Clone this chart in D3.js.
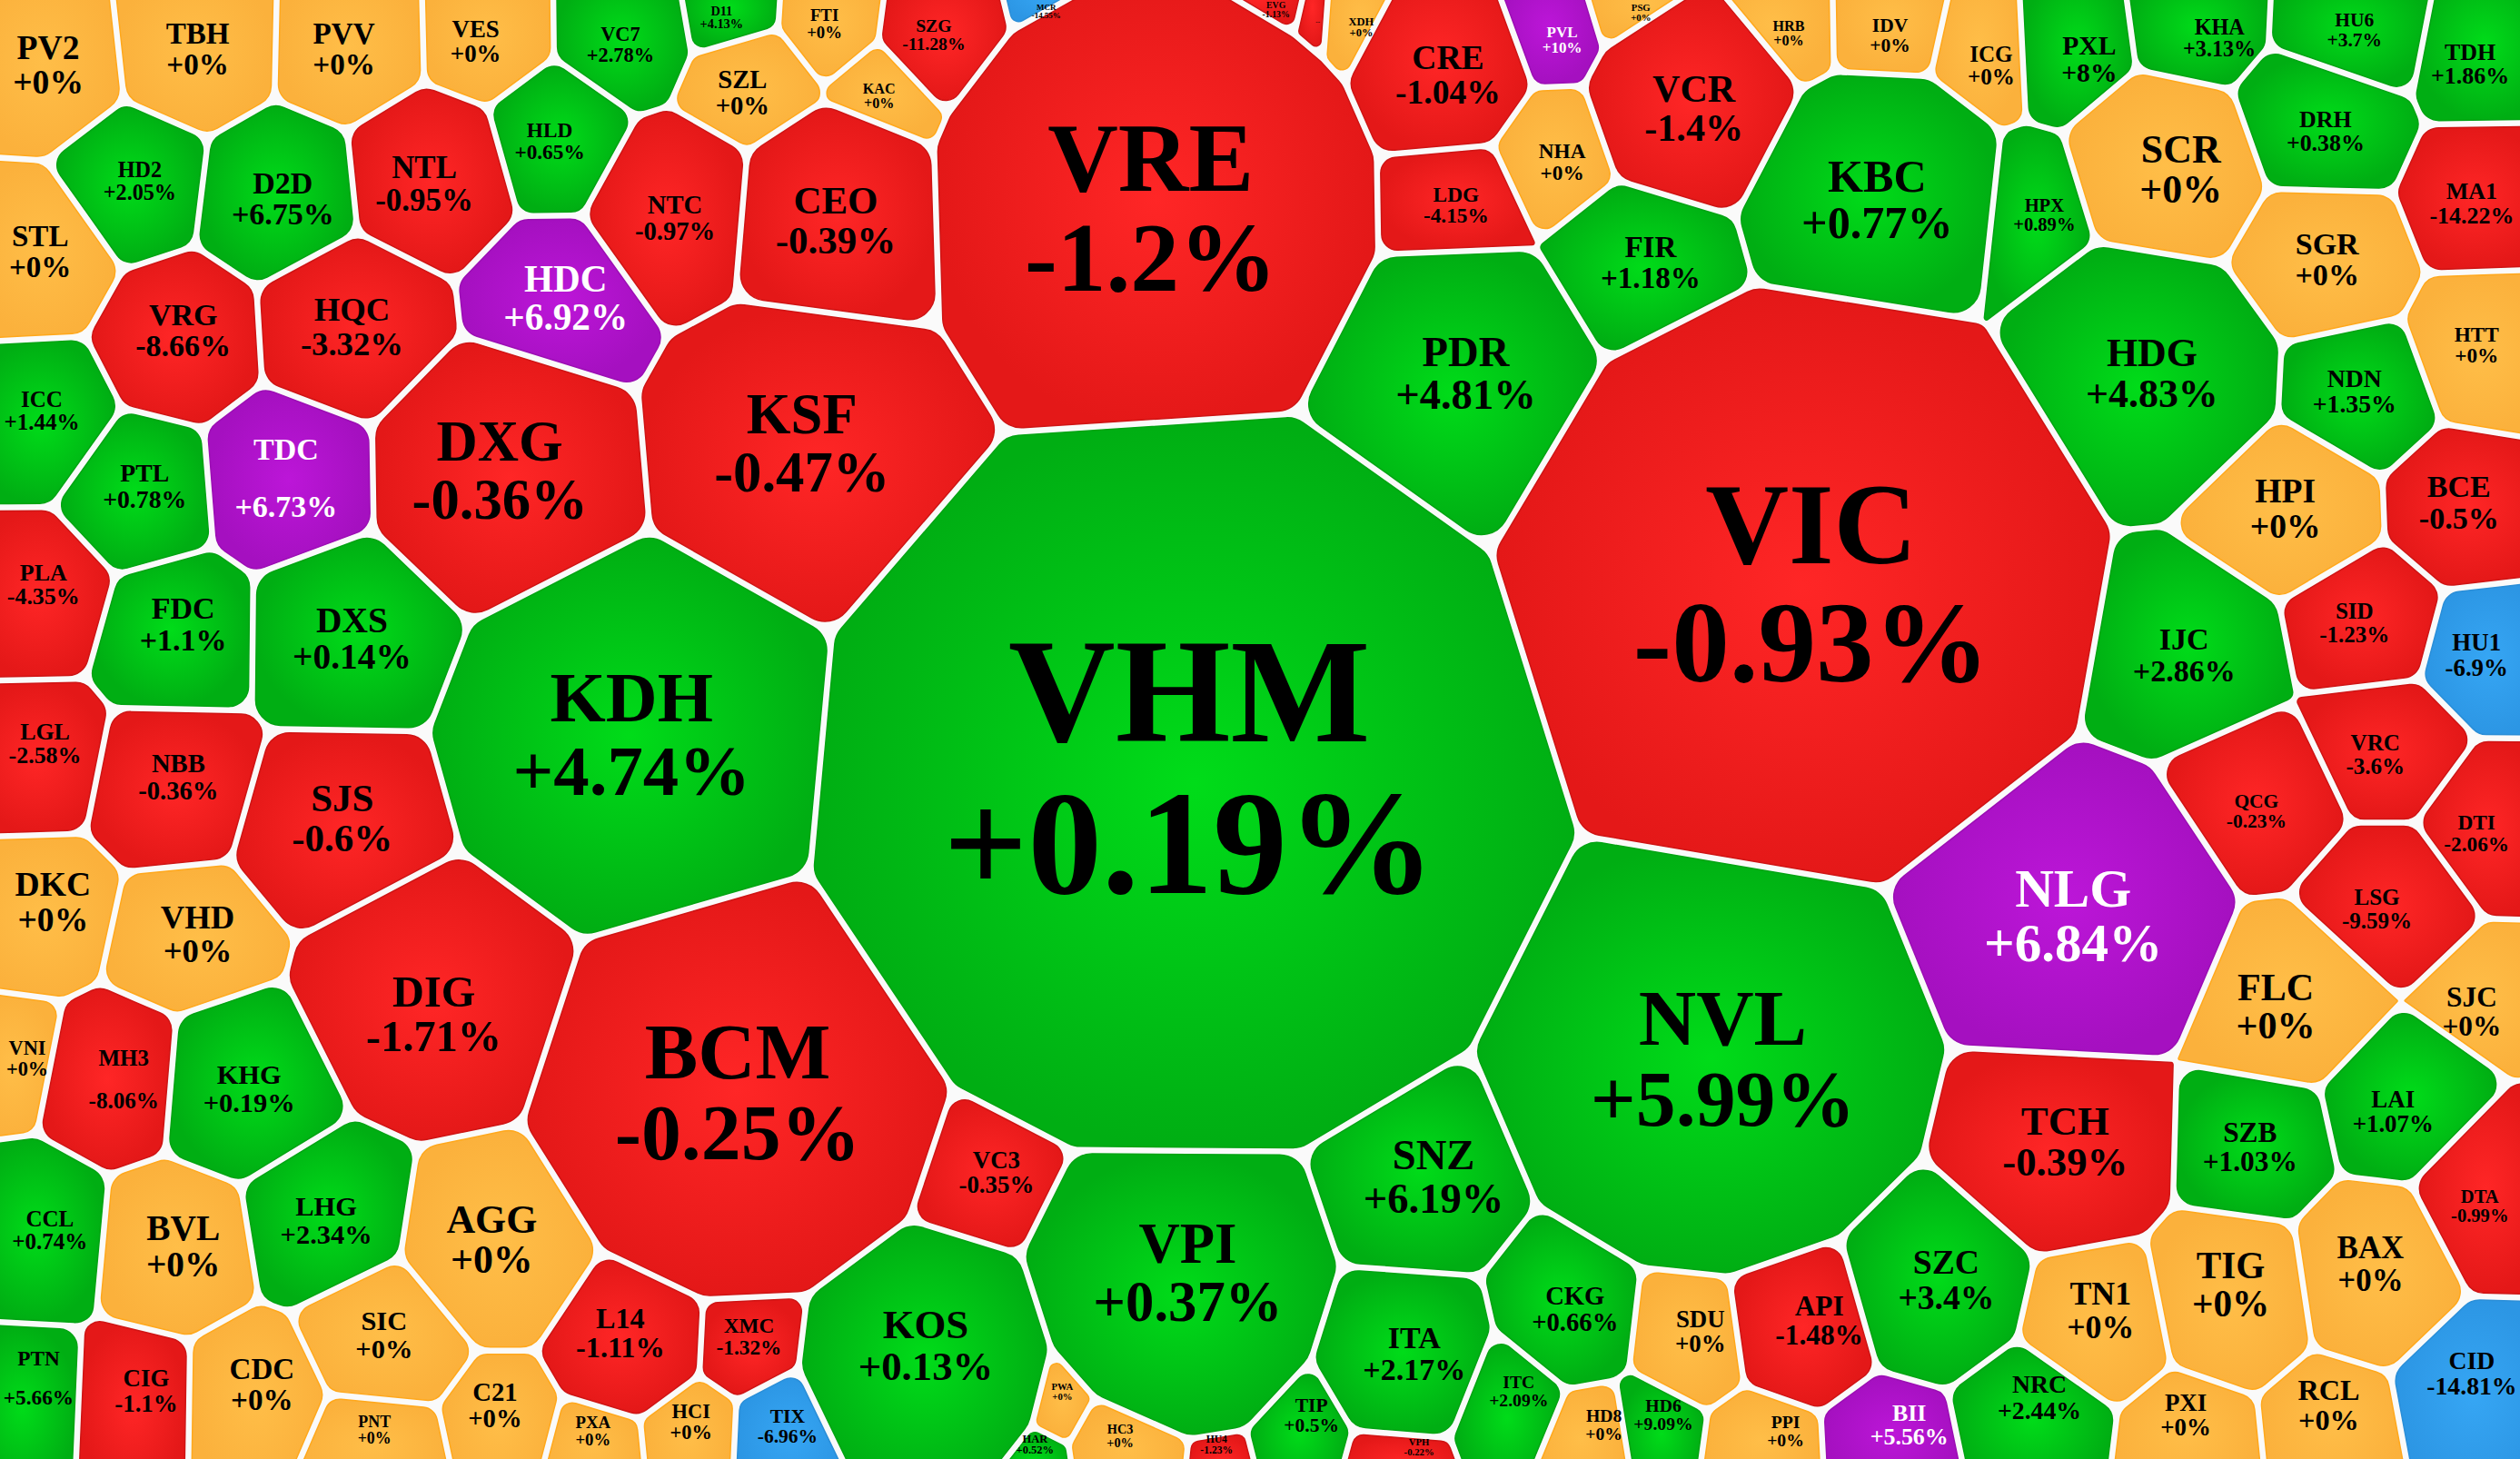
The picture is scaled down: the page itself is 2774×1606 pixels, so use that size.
<!DOCTYPE html>
<html lang="vi">
  <head>
    <meta charset="utf-8">
    <title>Voronoi market map</title>
    <style>
      html, body { margin: 0; padding: 0; background: #fafafa; overflow: hidden; }
      text { font-family: "Liberation Serif", serif; font-weight: bold; text-anchor: middle; }
    </style>
  </head>
  <body>
    <div id="chart"></div>
    <script src="https://d3js.org/d3.v7.min.js"></script>
    <script>
      const tickers = ['PV2','TBH','PVV','VES','VC7','D11','FTI','SZG','MCR','VRE','EVG','...','XDH','CRE','LDG','PVL','PSG','VCR','NHA','FIR','HRB','IDV','ICG','PXL','KHA','HU6','TDH','KBC','HPX','SCR','DRH','MA1','SGR','HTT','HDG','NDN','BCE','HPI','SID','HU1','IJC','VRC','QCG','DTI','NLG','LSG','FLC','SJC','LAI','TCH','SZB','DTA','BAX','TIG','TN1','CID','RCL','PXI','NRC','BII','PPI','SZC','API','SDU','HD6','HD8','CKG','ITC','VPH','ITA','SNZ','NVL','VPI','TIP','HU4','HC3','HAR','PWA','KOS','TIX','XMC','HCI','PXA','L14','C21','PNT','SIC','CDC','CIG','PTN','CCL','BVL','LHG','AGG','VC3','BCM','DIG','KHG','MH3','VNI','VHD','DKC','NBB','LGL','SJS','KDH','DXS','FDC','PLA','TDC','PTL','ICC','DXG','KSF','VRG','HQC','HDC','NTC','CEO','PDR','VIC','VHM','NTL','HLD','HD2','D2D','STL','SZL','KAC'];
      const changes = [0,0,0,0,2.78,4.13,0,-11.28,-14.55,-1.2,-1.13,-1,0,-1.04,-4.15,10,0,-1.4,0,1.18,0,0,0,8,3.13,3.7,1.86,0.77,0.89,0,0.38,-14.22,0,0,4.83,1.35,-0.5,0,-1.23,-6.9,2.86,-3.6,-0.23,-2.06,6.84,-9.59,0,0,1.07,-0.39,1.03,-0.99,0,0,0,-14.81,0,0,2.44,5.56,0,3.4,-1.48,0,9.09,0,0.66,2.09,-0.22,2.17,6.19,5.99,0.37,0.5,-1.23,0,0.52,0,0.13,-6.96,-1.32,0,0,-1.11,0,0,0,0,-1.1,5.66,0.74,0,2.34,0,-0.35,-0.25,-1.71,0.19,-8.06,0,0,0,-0.36,-2.58,-0.6,4.74,0.14,1.1,-4.35,6.73,0.78,1.44,-0.36,-0.47,-8.66,-3.32,6.92,-0.97,-0.39,4.81,-0.93,0.19,-0.95,0.65,2.05,6.75,0,0,0];
      // cell seeds on the map
      const siteX = [32,123,214,296,386,449,513,581,651,720,794,820,847,909,916,977,1023,1062,980,1033,1116,1176,1239,1300,1381,1465,1537,1171,1272,1363,1447,1538,1445,1541,1343,1462,1525,1419,1461,1536,1359,1471,1402,1535,1295,1471,1415,1532,1486,1288,1400,1543,1475,1388,1307,1540,1449,1360,1269,1188,1111,1214,1137,1066,1038,1001,989,950,883,887,894,1083,741,828,757,700,646,661,582,495,466,430,369,388,308,238,244,173,103,32,37,124,211,308,617,459,276,161,89,23,128,36,118,33,217,395,219,120,31,184,96,30,311,497,119,219,343,420,515,920,1133,743,264,342,87,176,25,462,547];
      const siteY = [41,31,33,31,30,19,23,32,15,138,14,20,22,55,135,30,16,76,105,172,31,30,44,41,30,34,48,133,144,116,86,127,164,215,238,244,313,317,388,408,408,472,505,519,576,566,627,630,695,711,714,751,787,800,816,855,872,881,870,887,891,795,817,827,881,887,818,866,891,841,743,662,795,876,894,888,896,866,846,888,832,885,891,828,875,890,828,862,861,858,766,774,760,775,733,680,620,678,672,659,582,562,480,463,508,458,390,389,364,296,303,256,294,278,210,204,191,136,144,241,368,490,115,93,113,124,157,63,64];
      // where the labels sit on the map
      const labelX = [30,123,214,296,386,449,513,581,651,716,794,820,847,901,906,972,1021,1054,972,1027,1113,1176,1239,1300,1381,1465,1537,1168,1272,1357,1447,1538,1448,1541,1339,1465,1530,1422,1465,1541,1359,1478,1404,1541,1290,1479,1416,1538,1489,1285,1400,1543,1475,1388,1307,1538,1449,1360,1269,1188,1111,1211,1132,1058,1035,998,980,945,883,880,892,1072,739,816,757,697,644,661,576,490,466,430,369,386,308,233,239,163,91,24,31,114,203,306,620,459,270,155,77,17,123,33,111,28,213,393,219,114,27,178,90,26,311,499,114,219,352,420,520,912,1127,740,264,342,87,176,25,462,547];
      const labelY = [41,31,31,26,28,11,15,22,7,131,6,15,17,47,128,25,8,68,101,164,21,22,41,37,24,19,40,125,134,106,82,127,162,215,233,244,313,317,388,408,408,470,505,519,571,566,627,630,692,711,714,751,787,800,816,855,875,881,870,887,891,797,822,829,881,887,815,866,901,843,733,660,793,881,899,894,899,866,838,888,832,885,891,830,875,890,831,862,866,858,766,776,760,772,730,681,632,678,672,659,582,562,484,463,510,458,398,389,364,298,303,256,294,277,206,204,186,136,138,233,365,480,115,88,113,124,157,58,60];
      // label weight
      const caps = [441,342,342,225,156,64,110,121,25,3600,30,12,49,441,169,90,36,552,169,342,81,144,196,272,182,144,210,784,132,600,210,210,361,169,600,240,361,441,196,225,361,196,144,169,1089,196,552,306,225,625,306,132,380,529,400,240,324,225,240,210,121,441,306,225,121,121,256,121,36,361,676,2401,1225,144,42,64,49,36,625,144,169,156,110,324,256,100,289,342,225,169,196,484,289,600,225,2401,729,289,196,156,420,441,256,210,576,1936,484,361,210,361,240,196,1225,1225,361,420,529,256,576,676,5041,8281,380,169,182,361,342,256,81];
      // size of each cell
      const cellAreas = [8900,8000,7050,5300,5500,2400,3200,4500,1350,64000,1400,700,1800,8700,4800,3200,2000,10800,4000,8000,3200,3900,3900,5200,5100,5500,6700,17000,4800,9600,6600,7100,7700,7100,18500,5900,7800,8000,5900,5900,12000,5900,7600,6300,26500,6700,9000,5600,6900,14200,7100,7400,8000,8000,6100,9100,5900,5300,6400,4800,3700,9800,6000,4200,2700,2800,6600,3900,2200,8200,11500,60000,24000,3100,1300,2800,1300,1100,17500,3500,3000,3000,2700,6300,4600,4300,5900,7000,6100,6200,8000,7800,7900,10500,5400,49900,19500,8700,6700,4000,7300,7500,8000,6800,11400,46300,11400,7500,7300,8300,6200,7100,19000,27700,7800,9100,8000,8400,12400,19500,108000,170000,7900,5100,5900,7400,7500,3900,2200];

      const ceilingTickers = ['HDC','TDC','NLG','PVL','BII'];
      const floorTickers = ['HU1','CID','TIX','MCR'];
      const wideLabels = ['TDC','PTN','MH3'];

      const W = 2774, H = 1606;
      const gap = 8;
      const margin = 35;

      const x = d3.scaleLinear().domain([0, 1568]).range([0, W]);
      const y = d3.scaleLinear().domain([0, 908]).range([0, H]);
      const fontSize = d3.scaleSqrt().domain([0, d3.max(caps)]).range([0, 163]);

      const colors = {
        up:    {mid: '#00dc19', edge: '#00ae13', line: '#00a412'},
        down:  {mid: '#ff2626', edge: '#e41818', line: '#cf1414'},
        flat:  {mid: '#ffbe48', edge: '#fbb13c', line: '#ffa81c'},
        ceil:  {mid: '#bc16d8', edge: '#a510c0', line: '#9c0eb4'},
        floor: {mid: '#36a6f4', edge: '#2c96e4', line: '#2a8ed8'}
      };

      function status(t, c) {
        if (ceilingTickers.includes(t)) return 'ceil';
        if (floorTickers.includes(t)) return 'floor';
        return c > 0 ? 'up' : c < 0 ? 'down' : 'flat';
      }

      const n = tickers.length;
      const sites = tickers.map((t, i) => [x(siteX[i]), y(siteY[i])]);

      // the layout runs a little past the frame, the cells at the edge are cropped by it
      const box = [[-margin, -margin], [W + margin, -margin], [W + margin, H + margin], [-margin, H + margin]];
      const boxArea = (W + 2 * margin) * (H + 2 * margin);
      const unit = (W / 1568) * (H / 908);
      // big cells are measured well, the small ones take up what is left
      const bigCell = 40000;
      const bigTotal = d3.sum(cellAreas, a => a > bigCell ? a * unit : 0);
      const smallTotal = d3.sum(cellAreas, a => a > bigCell ? 0 : a * unit);
      const fit = (boxArea - bigTotal) / smallTotal;
      const targets = cellAreas.map(a => a > bigCell ? a * unit : a * unit * fit);

      function clip(poly, a, b, c) {
        const out = [];
        for (let k = 0; k < poly.length; k++) {
          const p = poly[k], q = poly[(k + 1) % poly.length];
          const dp = a * p[0] + b * p[1] - c, dq = a * q[0] + b * q[1] - c;
          if (dp <= 0) out.push(p);
          if ((dp < 0 && dq > 0) || (dp > 0 && dq < 0)) {
            const s = dp / (dp - dq);
            out.push([p[0] + s * (q[0] - p[0]), p[1] + s * (q[1] - p[1])]);
          }
        }
        return out;
      }

      function cell(i, weights, inset) {
        let poly = box;
        const [xi, yi] = sites[i];
        for (let j = 0; j < n && poly.length; j++) {
          if (j === i) continue;
          const dx = sites[j][0] - xi, dy = sites[j][1] - yi;
          const d = Math.hypot(dx, dy);
          const c = (dx * (sites[j][0] + xi) + dy * (sites[j][1] + yi) - weights[j] + weights[i]) / (2 * d) - inset;
          poly = clip(poly, dx / d, dy / d, c);
        }
        return poly;
      }

      // power diagram: push the weights until every cell has its area
      const weights = targets.map(t => t / Math.PI);
      const steps = targets.map(() => 0);
      for (let it = 0; it < 700; it++) {
        const areas = d3.range(n).map(i => {
          const p = cell(i, weights, 0);
          return p.length > 2 ? Math.abs(d3.polygonArea(p)) : 0;
        });
        areas.forEach((a, i) => {
          steps[i] = 0.8 * steps[i] + 0.25 * (targets[i] - a);
          weights[i] += steps[i];
        });
      }

      function roundedPath(poly, r) {
        const path = d3.path();
        const k = poly.length;
        const at = t => poly[(t + k) % k];
        const seg = (a, b) => Math.hypot(b[0] - a[0], b[1] - a[1]);
        path.moveTo((poly[0][0] + poly[k - 1][0]) / 2, (poly[0][1] + poly[k - 1][1]) / 2);
        for (let t = 0; t < k; t++) {
          const a = at(t - 1), p = at(t), b = at(t + 1);
          const l1 = seg(a, p), l2 = seg(p, b);
          if (l1 < 1e-6 || l2 < 1e-6) continue;
          const cos = ((a[0] - p[0]) * (b[0] - p[0]) + (a[1] - p[1]) * (b[1] - p[1])) / (l1 * l2);
          const half = Math.acos(Math.max(-1, Math.min(1, cos))) / 2;
          const rr = Math.min(r, Math.min(l1, l2) / 2 * Math.tan(half));
          path.arcTo(p[0], p[1], b[0], b[1], rr);
        }
        path.closePath();
        return path.toString();
      }

      const svg = d3.select('#chart').append('svg')
        .attr('width', W)
        .attr('height', H)
        .attr('viewBox', [0, 0, W, H])
        .style('display', 'block')
        .style('background', '#fafafa');

      const defs = svg.append('defs');
      Object.keys(colors).forEach(key => {
        const g = defs.append('radialGradient').attr('id', 'grad-' + key);
        g.append('stop').attr('offset', '0%').attr('stop-color', colors[key].mid);
        g.append('stop').attr('offset', '100%').attr('stop-color', colors[key].edge);
      });

      const cells = d3.range(n).map(i => {
        const poly = cell(i, weights, gap / 2);
        return {
          i,
          poly,
          ticker: tickers[i],
          change: changes[i],
          kind: status(tickers[i], changes[i]),
          fs: fontSize(caps[i])
        };
      }).filter(d => d.poly.length > 2);

      svg.append('g').selectAll('path')
        .data(cells)
        .enter()
        .append('path')
        .attr('d', d => {
          const size = Math.sqrt(Math.abs(d3.polygonArea(d.poly)));
          return roundedPath(d.poly, Math.max(5, Math.min(30, size * 0.14)));
        })
        .attr('fill', d => 'url(#grad-' + d.kind + ')')
        .attr('stroke', d => colors[d.kind].line)
        .attr('stroke-width', 1.5);

      const labels = svg.append('g').selectAll('g')
        .data(cells)
        .enter()
        .append('g')
        .attr('fill', d => d.kind === 'ceil' ? '#fff' : '#000');

      labels.append('text')
        .attr('x', d => x(labelX[d.i]))
        .attr('y', d => y(labelY[d.i]) - (wideLabels.includes(d.ticker) ? 0.62 : 0.2) * d.fs)
        .attr('font-size', d => d.fs)
        .text(d => d.ticker);

      labels.append('text')
        .attr('x', d => x(labelX[d.i]))
        .attr('y', d => y(labelY[d.i]) + (wideLabels.includes(d.ticker) ? 1.24 : 0.82) * d.fs)
        .attr('font-size', d => d.fs)
        .text(d => d.ticker === '...' ? '' : (d.change >= 0 ? '+' : '') + d.change + '%');
    </script>
  </body>
</html>
